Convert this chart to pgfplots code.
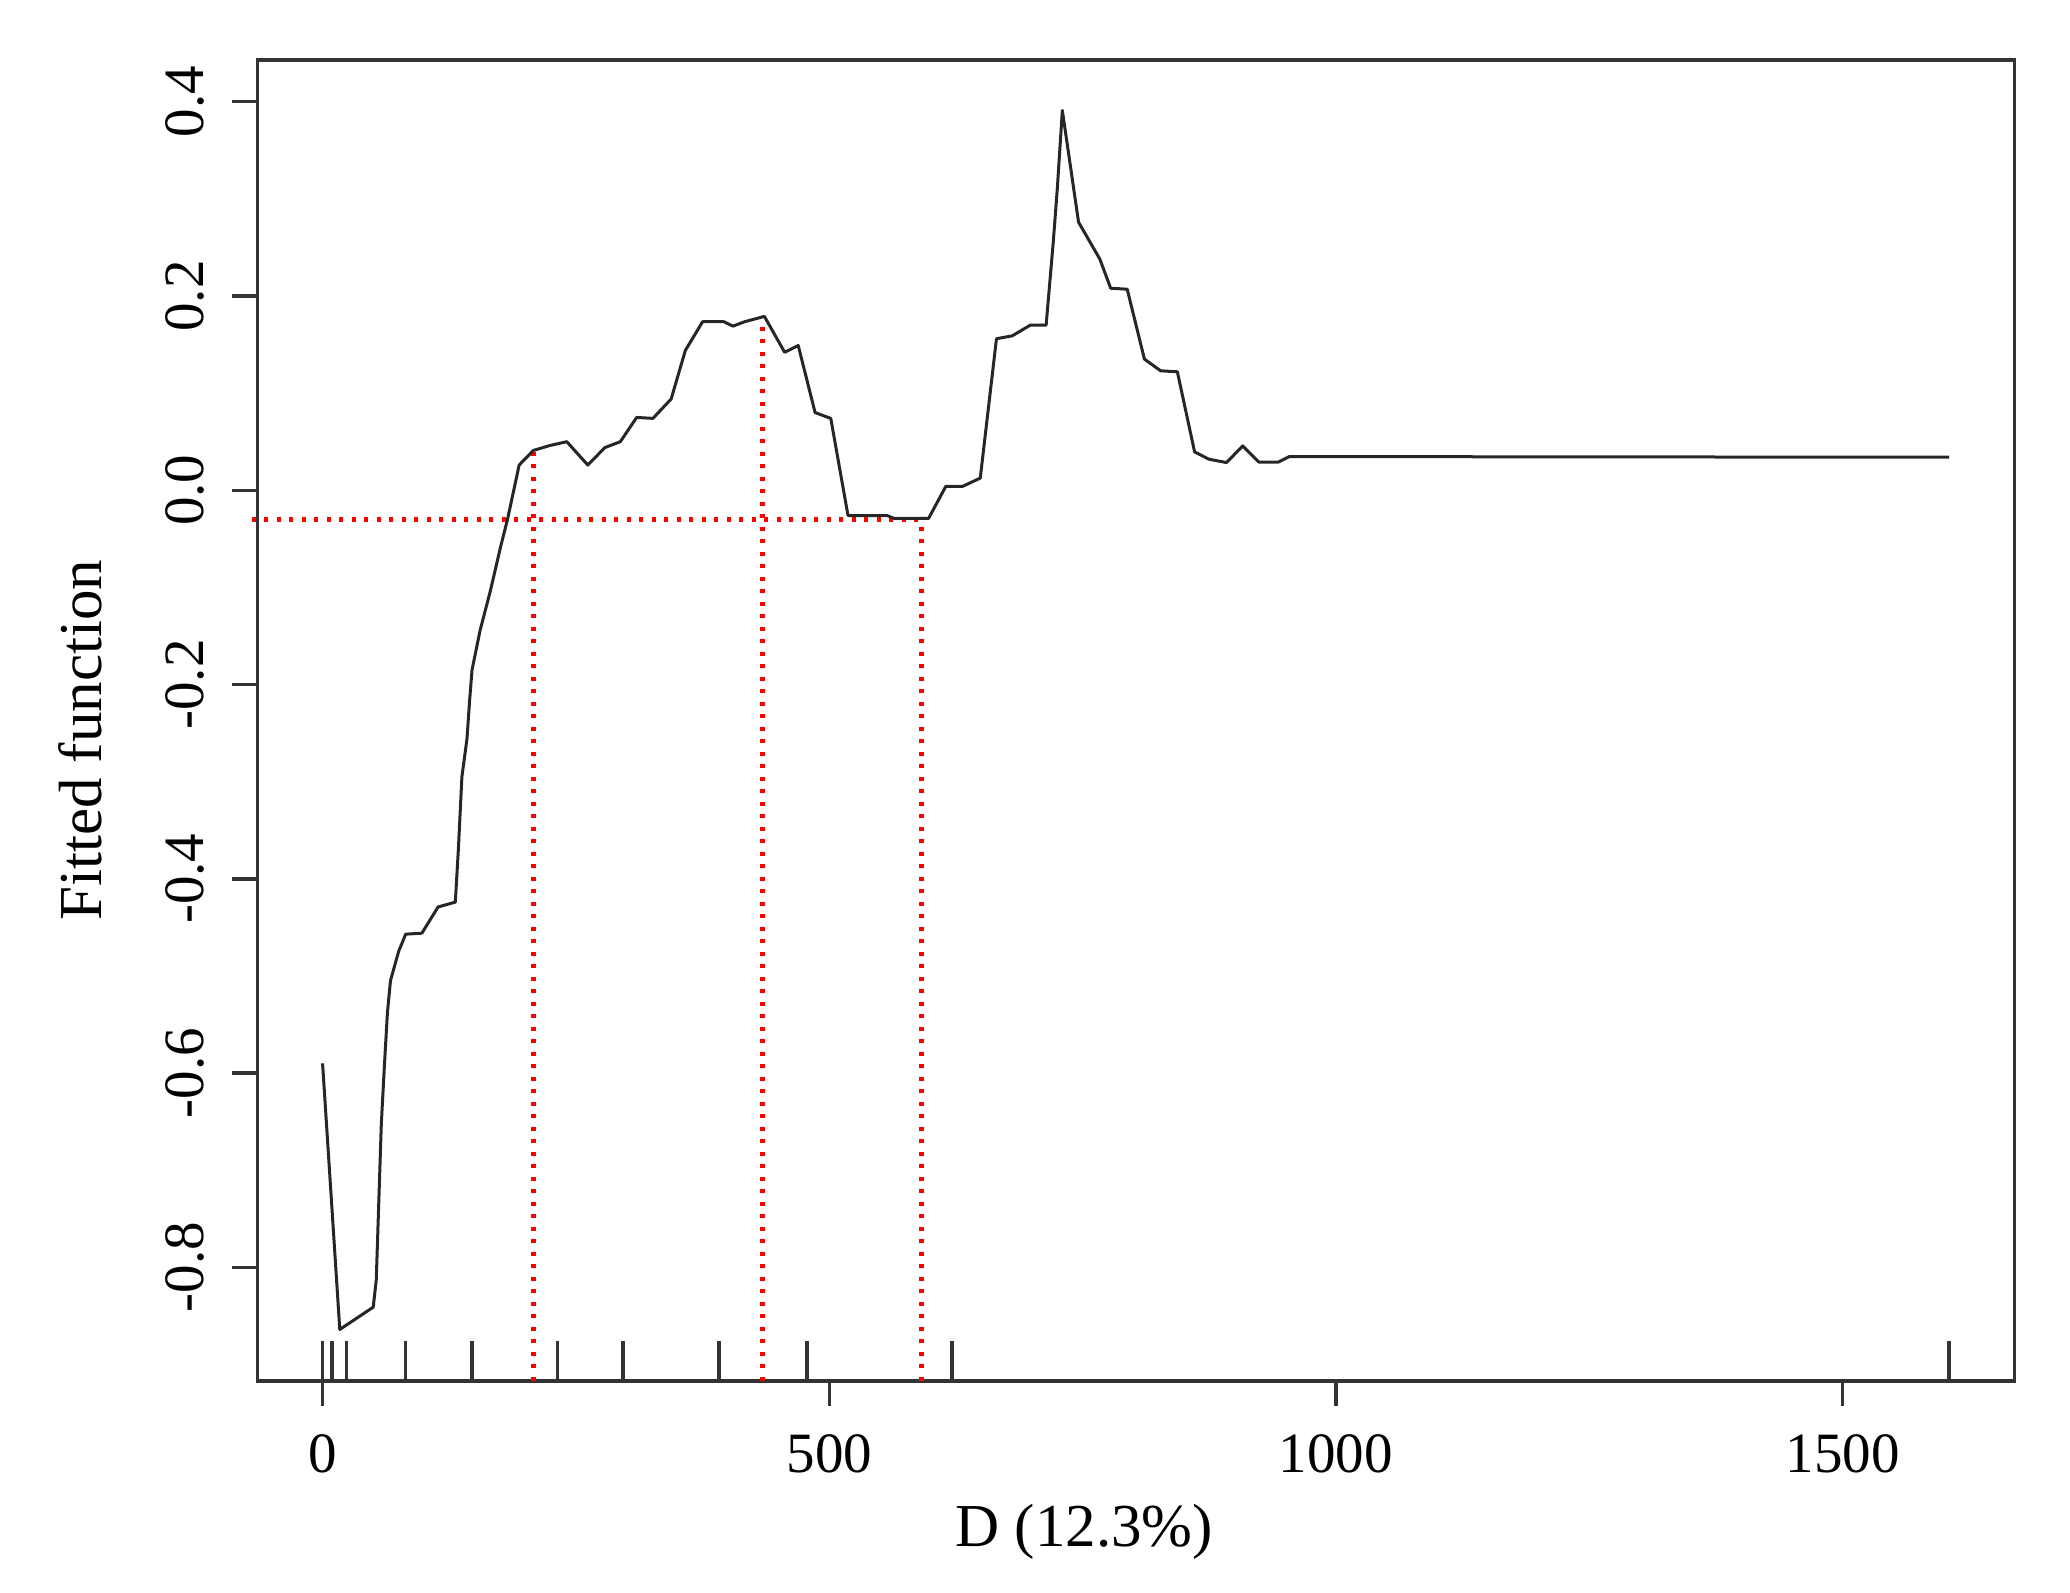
\documentclass[border=0pt]{standalone}
\usepackage{fontspec}
\setmainfont{Liberation Serif}
\usepackage{pgfplots}
\pgfplotsset{compat=1.18}

\pgfplotsset{
  rplot/.style={
    scale only axis, width=351.4pt, height=264.2pt,
    xmin=-64.2, xmax=1669.6, ymin=-0.917, ymax=0.443,
    axis line style={black!80, line width=0.7pt},
    tick style={black!80, line width=0.7pt},
    tick align=outside, major tick length=5pt,
    xtick pos=left, ytick pos=left,
    xtick={0,500,1000,1500},
    ytick={-0.8,-0.6,-0.4,-0.2,0,0.2,0.4},
    /pgf/number format/assume math mode=true,
    /pgf/number format/set thousands separator={},
    yticklabel style={/pgf/number format/fixed, /pgf/number format/fixed zerofill,
      /pgf/number format/precision=1},
    scaled ticks=false,
    xticklabel style={font=\fontsize{11.4}{13}\selectfont, anchor=base, yshift=-13.4pt, inner sep=0pt},
    yticklabel style={font=\fontsize{11.4}{13}\selectfont, xshift=-5.9pt, rotate=90, anchor=base, inner sep=0pt},
    every axis x label/.style={at={(axis description cs:0.4706,0)}, yshift=-33.2pt, anchor=base,
      font=\fontsize{12.2}{14}\selectfont, inner sep=0pt},
    every axis y label/.style={at={(axis description cs:0,0.485)}, xshift=-31.1pt, rotate=90, anchor=base,
      font=\fontsize{12.2}{14}\selectfont, inner sep=0pt},
    refline/.style={red, line width=0.9pt, dash pattern=on 0.8pt off 1.7pt},
  },
}

\begin{document}
\begin{tikzpicture}
  \begin{axis}[rplot, clip=false,
      xlabel={D (12.3\%)}, ylabel={Fitted function},
      extra x ticks={0,9.3,23.4,82,147.6,231.7,296.5,391.2,478,621,1605},
      extra x tick labels={,,,,,,,,,,},
      extra x tick style={tick align=inside, major tick length=8pt}]
    % reference lines
    \addplot[refline] coordinates {(-70,-0.030) (591,-0.030)};
    \addplot[refline] coordinates {(208,-0.917) (208,0.040)};
    \addplot[refline] coordinates {(434,-0.917) (434,0.178)};
    \addplot[refline] coordinates {(591,-0.917) (591,-0.030)};
    % fitted function
    \addplot[black!85, line width=0.6pt, line join=round] coordinates {
      (0,-0.590) (17,-0.864) (50,-0.841) (53,-0.813) (58,-0.652) (61,-0.593)
      (64,-0.538) (67,-0.505) (75,-0.475) (82,-0.457) (98,-0.456) (114,-0.429)
      (131,-0.424) (134,-0.370) (137.5,-0.295) (142.5,-0.256) (145,-0.218)
      (147.5,-0.185) (155.5,-0.144) (165.5,-0.104) (175.5,-0.059) (182.5,-0.030)
      (194,0.026) (208,0.041) (224,0.046) (241,0.050) (261.7,0.026) (278.7,0.044)
      (293.8,0.050) (310,0.075) (326,0.074) (344,0.094) (358,0.144) (375,0.1735)
      (396,0.1735) (405,0.169) (416.5,0.1735) (436,0.179) (456,0.142) (469.4,0.149)
      (486,0.080) (501.5,0.074) (518.5,-0.026) (557,-0.026) (564,-0.029) (598,-0.029)
      (615,0.004) (631.5,0.004) (649,0.0125) (665,0.156) (680.6,0.159) (698.4,0.170)
      (714,0.170) (721,0.255) (725,0.310) (730,0.391) (746,0.276) (767,0.238)
      (777.7,0.208) (794,0.207) (811,0.135) (827,0.123) (843.5,0.122) (860.5,0.0395)
      (874.6,0.032) (892,0.0285) (908,0.0457) (924,0.029) (943,0.029) (954,0.0347)
      (1605,0.034)
    };
  \end{axis}
  \pgfresetboundingbox
  \path ([shift={(-51.5pt,-42.4pt)}]current axis.south west)
    rectangle ([shift={(11.1pt,12pt)}]current axis.north east);
\end{tikzpicture}
\end{document}
